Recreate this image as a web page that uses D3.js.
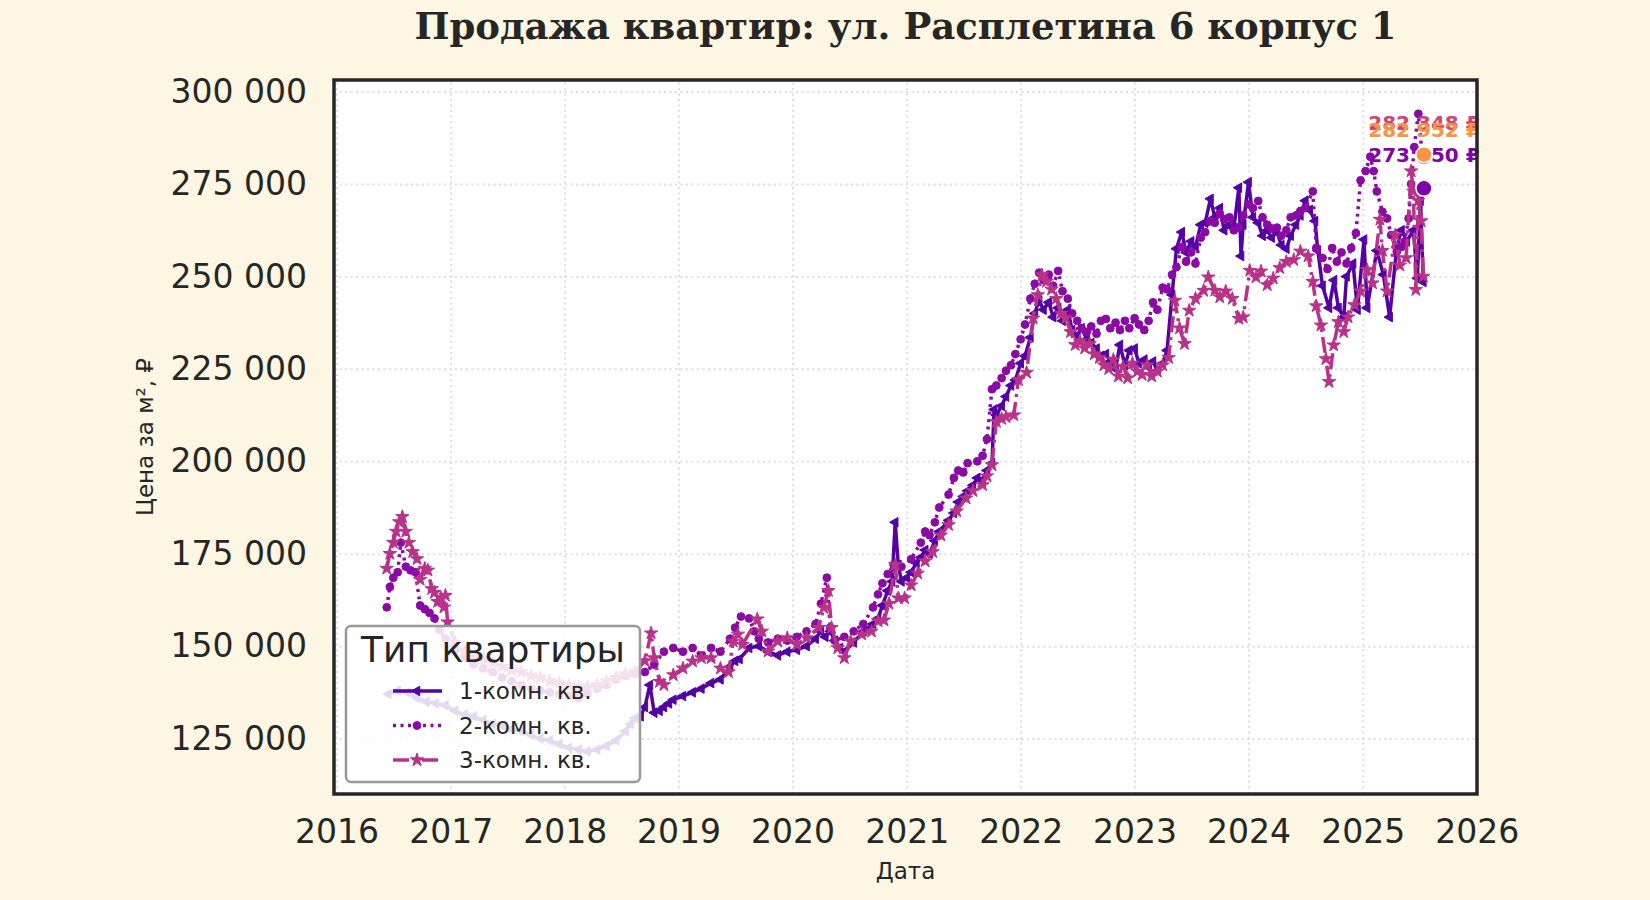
<!DOCTYPE html>
<html>
<head>
<meta charset="utf-8">
<title>Продажа квартир</title>
<script src="https://d3js.org/d3.v7.min.js"></script>
<style>
  body { margin: 0; background: #fdf6e3; }
  svg { display: block; font-family: "DejaVu Sans", sans-serif; }
  .grid line { stroke: #dedede; stroke-width: 2; stroke-dasharray: 2,3.5; }
  .grid path { display: none; }
  .axis path, .axis line { display: none; }
  .axis text { font-size: 33px; fill: #262626; font-family: "DejaVu Sans", sans-serif; }
</style>
</head>
<body>
<script>
// ---- data ----
var rooms = ["1-комн. кв.", "2-комн. кв.", "3-комн. кв."];

var dates1 = ["2016-06-15","2016-07-15","2016-08-15","2016-09-15","2016-10-15","2016-11-15","2016-12-15",
  "2017-01-15","2017-02-15","2017-03-15","2017-04-15","2017-05-15","2017-06-15","2017-07-15","2017-08-15","2017-09-15","2017-10-15","2017-11-15","2017-12-15",
  "2018-01-15","2018-02-15","2018-03-15","2018-04-15","2018-05-15","2018-06-15","2018-07-15","2018-08-01","2018-08-15","2018-09-01","2018-09-15","2018-10-01","2018-10-15","2018-11-01","2018-11-15","2018-12-01","2018-12-15",
  "2019-01-15","2019-02-15","2019-03-15","2019-04-15","2019-05-15","2019-06-15","2019-07-01","2019-07-15","2019-08-15","2019-09-15","2019-10-15","2019-11-15","2019-12-15",
  "2020-01-15","2020-02-15","2020-03-15","2020-04-01","2020-04-15","2020-05-01","2020-05-15","2020-06-01","2020-06-15","2020-07-15","2020-08-15","2020-09-15","2020-10-01","2020-10-15","2020-11-01","2020-11-15","2020-11-25","2020-12-05","2020-12-15",
  "2021-01-01","2021-01-15","2021-02-01","2021-02-15","2021-03-01","2021-03-15","2021-04-01","2021-04-15","2021-05-15","2021-06-01","2021-06-15","2021-07-01","2021-07-15","2021-08-01","2021-08-15","2021-09-01","2021-09-15","2021-10-01","2021-10-08","2021-10-15","2021-11-01","2021-11-15","2021-12-01","2021-12-15",
  "2022-01-01","2022-01-15","2022-02-01","2022-02-15","2022-03-01","2022-03-15","2022-04-01","2022-04-15","2022-05-01","2022-05-15","2022-06-01","2022-06-15","2022-07-01","2022-07-15","2022-08-01","2022-08-15","2022-09-01","2022-09-15","2022-10-01","2022-10-15","2022-11-01","2022-11-15","2022-12-01","2022-12-15",
  "2023-01-01","2023-01-15","2023-02-01","2023-02-15","2023-03-01","2023-03-15","2023-04-01","2023-04-15","2023-05-01","2023-05-15","2023-06-01","2023-06-15","2023-07-01","2023-07-15","2023-08-01","2023-08-15","2023-09-01","2023-09-15","2023-10-01","2023-10-15","2023-11-01","2023-11-15","2023-12-01","2023-12-08","2023-12-15",
  "2024-01-01","2024-01-15","2024-02-01","2024-02-15","2024-03-01","2024-03-15","2024-04-01","2024-04-15","2024-05-01","2024-05-15","2024-06-01","2024-06-15","2024-07-01","2024-07-15","2024-08-01","2024-08-10","2024-08-25","2024-09-15","2024-10-01","2024-10-15","2024-11-01","2024-11-10","2024-12-01","2024-12-15",
  "2025-01-05","2025-01-15","2025-02-15","2025-03-08","2025-03-28","2025-04-20","2025-05-05","2025-05-22","2025-06-12","2025-06-25","2025-07-05","2025-07-14"];
var prices1 = [137000,138000,137500,136000,135000,134500,134000,
  132500,131500,131000,130000,129000,128500,127500,127000,126000,125000,124500,123500,
  122500,122000,121500,122000,123000,124500,127000,129000,130500,131000,133500,139500,132000,132500,133500,134500,135500,
  136500,137500,138500,140000,141000,144500,146000,146500,149500,150000,148500,147500,148500,
  149000,150000,152000,154000,152500,154000,151500,149500,148500,151000,154000,156000,157500,161000,165000,167500,183500,172000,167500,
  168500,170000,172500,174000,176000,175000,178500,181000,184000,186000,189000,190500,192000,193500,195500,195000,197500,199500,214000,212500,215000,217500,220500,222000,
  226500,228500,233500,240000,243500,241000,243000,239000,241500,238000,241000,235500,234000,236000,233000,232000,230500,228500,229000,227000,225000,231500,226000,230000,
  230500,226500,227500,225500,227000,224500,226500,230000,245000,257500,262000,256500,259500,258000,264000,264500,271000,266000,268500,262500,264000,263000,274000,255500,264000,
  275500,266000,264500,261000,262500,260500,262000,258500,257500,261000,264000,266500,270500,268000,265000,257000,247500,241500,249000,241500,239000,250000,253500,241000,
  260000,241500,257000,250500,239000,258000,262500,259500,262500,249500,270500,248500];

var dates2 = ["2016-06-10","2016-06-20","2016-07-01","2016-07-15","2016-07-25","2016-08-10","2016-08-25","2016-09-10","2016-09-25","2016-10-10","2016-10-25","2016-11-10","2016-11-25","2016-12-15",
  "2017-01-15","2017-02-15","2017-03-15","2017-04-15","2017-05-15","2017-06-15","2017-07-15","2017-08-15","2017-09-15","2017-10-15","2017-11-15","2017-12-15",
  "2018-01-15","2018-02-15","2018-03-15","2018-04-15","2018-05-15","2018-06-15","2018-07-15","2018-08-15","2018-09-15","2018-10-15","2018-11-15","2018-12-15",
  "2019-01-15","2019-02-15","2019-03-15","2019-04-15","2019-05-15","2019-06-15","2019-07-01","2019-07-20","2019-08-15","2019-09-01","2019-09-15","2019-10-15","2019-11-15","2019-12-15",
  "2020-01-15","2020-02-15","2020-03-15","2020-04-01","2020-04-20","2020-05-01","2020-05-15","2020-06-15","2020-07-15","2020-08-15","2020-09-15","2020-10-01","2020-10-15","2020-11-01","2020-11-20","2020-12-15",
  "2021-01-15","2021-02-15","2021-03-01","2021-03-15","2021-04-01","2021-04-15","2021-05-15","2021-06-01","2021-06-15","2021-07-01","2021-07-15","2021-08-15","2021-09-01","2021-09-15","2021-10-01","2021-10-15","2021-11-01","2021-11-15","2021-12-01","2021-12-15",
  "2022-01-01","2022-01-15","2022-02-01","2022-02-15","2022-03-01","2022-03-15","2022-04-01","2022-04-15","2022-05-01","2022-05-15","2022-06-01","2022-06-15","2022-07-01","2022-07-15","2022-08-01","2022-08-15","2022-09-01","2022-09-15","2022-10-01","2022-10-15","2022-11-01","2022-11-15","2022-12-01","2022-12-15",
  "2023-01-01","2023-01-15","2023-02-01","2023-02-15","2023-03-01","2023-03-15","2023-04-01","2023-04-15","2023-05-01","2023-05-15","2023-06-01","2023-06-15","2023-07-01","2023-07-15","2023-08-01","2023-08-15","2023-09-01","2023-09-15","2023-10-01","2023-10-15","2023-11-01","2023-11-15","2023-12-01","2023-12-15",
  "2024-01-01","2024-01-15","2024-02-01","2024-02-15","2024-03-01","2024-03-15","2024-04-01","2024-04-15","2024-05-01","2024-05-15","2024-06-01","2024-06-15","2024-07-01","2024-07-25","2024-08-05","2024-08-25","2024-09-10","2024-09-25","2024-10-10","2024-10-25","2024-11-10","2024-11-25","2024-12-10","2024-12-25",
  "2025-01-10","2025-01-25","2025-02-05","2025-02-15","2025-03-05","2025-03-20","2025-04-02","2025-04-20","2025-05-05","2025-05-15","2025-05-28","2025-06-05","2025-06-15","2025-06-28","2025-07-10"];
var prices2 = [160500,166000,168500,170000,178000,171500,170500,170000,161000,160000,159000,157500,154500,152000,
  149000,147000,145000,144000,143000,141500,140500,139500,138500,138000,137500,137000,
  136500,136000,137000,138500,139500,141000,142000,142500,143000,145000,148500,149500,
  148500,149500,147500,149500,148500,152000,155000,158000,157500,154000,152000,151000,152000,151500,
  152500,154000,156000,161500,168500,155000,151500,152500,154000,156000,160500,164000,167000,169500,172000,171500,
  173500,178000,181000,180000,183500,187500,191000,195500,197500,197000,199500,200000,201500,206000,219500,220500,222500,224500,226000,229000,
  233000,237000,244000,248000,251000,249000,250500,247500,251500,246000,244000,240000,238000,236000,235000,236500,234500,238000,238500,236000,237500,235500,238000,236000,
  238700,237000,235500,238000,243000,241000,247000,246500,250500,252500,258000,254000,256500,253500,260500,262000,265000,264500,267000,265500,266000,262500,263300,266500,
  269500,268500,270400,266000,264000,263000,263200,261000,262500,266000,266500,267700,268500,273000,257700,255000,252000,257700,254000,256500,253500,257700,261700,276000,
  278500,282400,278500,273000,267500,265700,261200,256700,258000,259400,265700,275000,285000,294000,283000];

var dates3 = ["2016-06-10","2016-06-20","2016-07-01","2016-07-10","2016-07-20","2016-07-30","2016-08-10","2016-08-20","2016-09-01","2016-09-15","2016-09-25","2016-10-10","2016-10-20","2016-11-01","2016-11-10","2016-11-20","2016-12-01","2016-12-10","2016-12-15","2016-12-22",
  "2017-01-15","2017-02-15","2017-03-15","2017-04-15","2017-05-15","2017-06-15","2017-07-15","2017-08-15","2017-09-15","2017-10-15","2017-11-15","2017-12-15",
  "2018-01-15","2018-02-15","2018-03-15","2018-04-15","2018-05-15","2018-06-15","2018-07-15","2018-08-15","2018-09-15","2018-10-05","2018-10-15","2018-11-01","2018-11-15","2018-12-15",
  "2019-01-15","2019-02-15","2019-03-15","2019-04-15","2019-05-15","2019-06-10","2019-06-25","2019-07-10","2019-07-25","2019-09-10","2019-09-25","2019-10-15","2019-11-15","2019-12-15",
  "2020-01-15","2020-02-15","2020-03-25","2020-04-10","2020-04-25","2020-05-05","2020-05-25","2020-06-15","2020-07-05","2020-08-10","2020-09-10","2020-10-01","2020-10-20","2020-11-05","2020-11-25","2020-12-05","2020-12-25",
  "2021-01-15","2021-02-05","2021-03-01","2021-03-25","2021-04-20","2021-05-15","2021-06-10","2021-07-10","2021-08-01","2021-09-01","2021-09-15","2021-10-01","2021-10-15","2021-11-01","2021-11-15","2021-12-10","2021-12-25",
  "2022-01-20","2022-02-10","2022-02-25","2022-03-10","2022-03-25","2022-04-10","2022-04-25","2022-05-10","2022-05-25","2022-06-10","2022-06-25","2022-07-10","2022-07-25","2022-08-10","2022-08-25","2022-09-10","2022-09-25","2022-10-10","2022-10-25","2022-11-10","2022-11-25","2022-12-10","2022-12-25",
  "2023-01-10","2023-01-25","2023-02-10","2023-02-25","2023-03-15","2023-04-01","2023-04-20","2023-05-10","2023-05-25","2023-06-10","2023-06-25","2023-07-15","2023-08-10","2023-08-25","2023-09-15","2023-10-01","2023-10-20","2023-11-10","2023-12-01","2023-12-15",
  "2024-01-05","2024-01-25","2024-02-10","2024-03-01","2024-03-20","2024-04-10","2024-05-01","2024-05-25","2024-06-15","2024-07-10","2024-07-25","2024-08-05","2024-08-20","2024-09-05","2024-09-15","2024-09-30","2024-10-15","2024-11-01","2024-11-15","2024-12-05","2024-12-25",
  "2025-01-15","2025-02-01","2025-02-25","2025-03-05","2025-03-20","2025-04-15","2025-04-30","2025-05-20","2025-06-05","2025-06-12","2025-06-20","2025-06-28","2025-07-07","2025-07-14"];
var prices3 = [171000,175000,178000,181000,183600,185000,181000,178000,175500,173600,168000,171000,170500,165500,164500,162000,163000,160500,163700,156500,
  151000,148500,147000,146500,145500,144500,143500,143000,142000,141500,140500,140000,
  139500,139000,139000,139500,140500,141500,142500,143000,146000,153500,146800,140400,139500,142200,
  144000,145900,146800,146800,144000,143000,151300,153200,150400,157300,154000,148600,151300,152200,
  150400,152200,155000,160400,165000,155000,149500,146800,151300,153200,154000,156800,157000,161500,172000,163000,163000,
  166500,169700,173000,175500,180000,182800,186500,190000,192000,193600,196000,199000,210700,211500,212000,212500,222000,
  224000,238700,245000,250400,248600,246500,244000,240000,238700,235000,231500,232500,230600,231800,229000,228000,226000,225000,227500,223000,225600,222500,226500,
  224300,223400,226000,223000,224300,226000,228000,243500,236000,231800,240800,244000,246200,249800,246200,244400,246000,244000,238600,239000,
  251600,249800,251400,247700,249500,252300,254000,254500,256800,255500,248600,242000,236800,227700,221500,231400,237700,235000,239000,242300,246000,
  251800,248200,265400,257000,246000,261200,253000,255000,278500,273000,246400,270500,265000,250000];

// current price per type (big dots at the right edge)
var lastDate = "2025-07-16";
var lastPrices = [273850, 282348, 282952];

var yTicks = [125000, 150000, 175000, 200000, 225000, 250000, 275000, 300000];
var xTickYears = [2016, 2017, 2018, 2019, 2020, 2021, 2022, 2023, 2024, 2025, 2026];

// ---- styles ----
var lineColors = ["#5402a3", "#8b0aa5", "#b93289"];
var dotColors = ["#7e03a8", "#cc4778", "#f89540"];
var dashes = [null, "3,4.5", "16,5,3,5"];
var symbols = [d3.symbolTriangle, d3.symbolCircle, d3.symbolStar];
var symbolSizes = [40, 48, 55];
var symbolRotate = [-90, 0, 0];
var labelDy = [-26, -27, -18];
var drawOrder = [1, 2, 0]; // labels / dots order

var width = 1650, height = 900;
var margin = {top: 80, right: 173, bottom: 106, left: 334};
var iw = width - margin.left - margin.right,
    ih = height - margin.top - margin.bottom;

var parse = d3.timeParse("%Y-%m-%d");
var series = [
  {name: rooms[0], values: dates1.map(function(d, i) { return {date: parse(d), price: prices1[i]}; })},
  {name: rooms[1], values: dates2.map(function(d, i) { return {date: parse(d), price: prices2[i]}; })},
  {name: rooms[2], values: dates3.map(function(d, i) { return {date: parse(d), price: prices3[i]}; })}
];

var x = d3.scaleTime()
  .domain([new Date(2015, 11, 24), new Date(2026, 0, 2)])
  .range([0, iw]);
var y = d3.scaleLinear().domain([110000, 303140]).range([ih, 0]);

var fmt = function(v) { return d3.format(",")(v).replace(/,/g, " "); };

var svg = d3.select("body").append("svg")
  .attr("width", width)
  .attr("height", height);

svg.append("rect").attr("width", width).attr("height", height).attr("fill", "#fdf6e3");

var g = svg.append("g")
  .attr("transform", "translate(" + margin.left + "," + margin.top + ")");

g.append("rect").attr("width", iw).attr("height", ih).attr("fill", "#ffffff");

g.append("clipPath").attr("id", "clip")
  .append("rect").attr("width", iw).attr("height", ih);

var xTicks = xTickYears.map(function(yr) { return new Date(yr, 0, 1); });

// gridlines
g.append("g").attr("class", "grid")
  .attr("transform", "translate(0," + ih + ")")
  .call(d3.axisBottom(x).tickValues(xTicks).tickSize(-ih).tickFormat(""));
g.append("g").attr("class", "grid")
  .call(d3.axisLeft(y).tickValues(yTicks).tickSize(-iw).tickFormat(""));

// axes
g.append("g").attr("class", "axis")
  .attr("transform", "translate(0," + ih + ")")
  .call(d3.axisBottom(x).tickValues(xTicks).tickSize(0).tickPadding(26)
    .tickFormat(d3.timeFormat("%Y")));
g.append("g").attr("class", "axis")
  .call(d3.axisLeft(y).tickValues(yTicks).tickSize(0).tickPadding(27).tickFormat(fmt));

// lines
var line = d3.line()
  .x(function(d) { return x(d.date); })
  .y(function(d) { return y(d.price); });

var plot = g.append("g").attr("clip-path", "url(#clip)");

series.forEach(function(s, k) {
  plot.append("path")
    .datum(s.values)
    .attr("fill", "none")
    .attr("stroke", lineColors[k])
    .attr("stroke-width", 3.5)
    .attr("stroke-linejoin", "round")
    .attr("stroke-dasharray", dashes[k])
    .attr("d", line);

  plot.selectAll(".m" + k)
    .data(s.values)
    .enter().append("path")
    .attr("class", "m" + k)
    .attr("d", d3.symbol().type(symbols[k]).size(symbolSizes[k]))
    .attr("transform", function(d) {
      return "translate(" + x(d.date) + "," + y(d.price) + ") rotate(" + symbolRotate[k] + ")";
    })
    .attr("fill", lineColors[k])
    .attr("stroke", lineColors[k])
    .attr("stroke-width", 1);
});

// current price labels and dots
var lx = x(parse(lastDate));
drawOrder.forEach(function(k) {
  g.append("text")
    .attr("x", lx)
    .attr("y", y(lastPrices[k]) + labelDy[k])
    .attr("text-anchor", "middle")
    .attr("font-size", "20px")
    .attr("font-weight", "bold")
    .attr("fill", dotColors[k])
    .text(fmt(lastPrices[k]) + " ₽");
});
drawOrder.forEach(function(k) {
  g.append("circle")
    .attr("cx", lx)
    .attr("cy", y(lastPrices[k]))
    .attr("r", 8)
    .attr("fill", dotColors[k])
    .attr("stroke", "#ffffff")
    .attr("stroke-width", 1.5);
});

// frame
g.append("rect").attr("width", iw).attr("height", ih)
  .attr("fill", "none").attr("stroke", "#262626").attr("stroke-width", 3.5);

// titles
svg.append("text")
  .attr("x", margin.left + iw / 2).attr("y", 39)
  .attr("text-anchor", "middle")
  .attr("font-family", "'DejaVu Serif', serif")
  .attr("font-weight", "bold")
  .attr("font-size", "37px")
  .attr("fill", "#262626")
  .text("Продажа квартир: ул. Расплетина 6 корпус 1");

svg.append("text")
  .attr("x", margin.left + iw / 2).attr("y", 879)
  .attr("text-anchor", "middle")
  .attr("font-size", "23px")
  .attr("fill", "#262626")
  .text("Дата");

svg.append("text")
  .attr("transform", "translate(153," + (margin.top + ih / 2) + ") rotate(-90)")
  .attr("text-anchor", "middle")
  .attr("font-size", "23px")
  .attr("fill", "#262626")
  .text("Цена за м², ₽");

// legend
var leg = svg.append("g").attr("transform", "translate(346,626)");
leg.append("rect")
  .attr("width", 294).attr("height", 156).attr("rx", 5)
  .attr("fill", "#ffffff").attr("fill-opacity", 0.85)
  .attr("stroke", "#999999").attr("stroke-width", 2.5);
leg.append("text")
  .attr("x", 147).attr("y", 36)
  .attr("text-anchor", "middle")
  .attr("font-size", "36px")
  .attr("fill", "#262626")
  .text("Тип квартиры");

rooms.forEach(function(name, k) {
  var cy = 65 + k * 34.5;
  leg.append("line")
    .attr("x1", 47).attr("x2", 96).attr("y1", cy).attr("y2", cy)
    .attr("stroke", lineColors[k]).attr("stroke-width", 3.5)
    .attr("stroke-dasharray", dashes[k]);
  leg.append("path")
    .attr("d", d3.symbol().type(symbols[k]).size(symbolSizes[k])())
    .attr("transform", "translate(71," + cy + ") rotate(" + symbolRotate[k] + ")")
    .attr("fill", lineColors[k]).attr("stroke", lineColors[k]);
  leg.append("text")
    .attr("x", 113).attr("y", cy + 8)
    .attr("font-size", "23px")
    .attr("fill", "#262626")
    .text(name);
});
</script>
</body>
</html>
